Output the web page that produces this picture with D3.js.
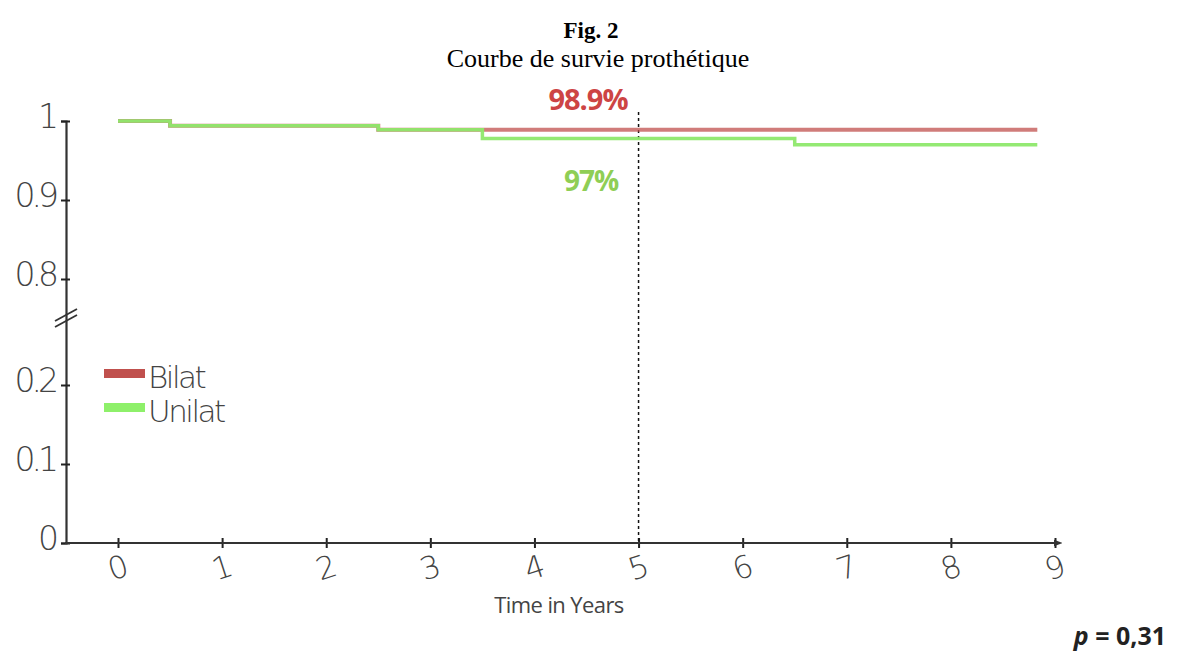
<!DOCTYPE html>
<html>
<head>
<meta charset="utf-8">
<script src="https://cdn.jsdelivr.net/npm/d3@7"></script>
<style>
  body { margin: 0; background: #fff; }
  .num { font-family: "DejaVu Sans", sans-serif; font-weight: 200; fill: #444; }
</style>
</head>
<body>
<div id="chart"></div>
<script>
var svgWidth = 1181;
var svgHeight = 653;

// Kaplan-Meier steps
var bilatTimes = [0, 0.5, 2.5, 8.83];
var bilatSurv = [1, 0.994, 0.989, 0.989];
var unilatTimes = [0, 0.5, 2.5, 3.5, 6.5, 8.83];
var unilatSurv = [1, 0.994, 0.989, 0.978, 0.970, 0.970];

var xTicks = [0, 1, 2, 3, 4, 5, 6, 7, 8, 9];
var yTicks = [0, 0.1, 0.2, 0.8, 0.9, 1];
var yTickLabels = ["0", "0.1", "0.2", "0.8", "0.9", "1"];
var markTime = 5;
var markLabels = ["98.9%", "97%"];

var svg = d3.select("#chart")
  .append("svg")
  .attr("width", svgWidth)
  .attr("height", svgHeight);

var xAxisLeft = 66;
var xScale = d3.scaleLinear().domain([0, 9]).range([118, 1055]);
// broken axis: 0.2 -> 0.8 is squeezed
var yScale = d3.scaleLinear().domain([0, 0.2, 0.8, 1]).range([543, 385, 279, 121]);

// titles
svg.append("text").attr("x", 591).attr("y", 38).attr("text-anchor", "middle")
  .style("font-family", "Liberation Serif, Times New Roman, serif")
  .style("font-weight", "bold").style("font-size", "23px").text("Fig. 2");
svg.append("text").attr("x", 598).attr("y", 67).attr("text-anchor", "middle")
  .style("font-family", "Liberation Serif, Times New Roman, serif")
  .style("font-size", "26px").text("Courbe de survie prothétique");

// y axis
var yAxis = svg.append("g")
  .attr("transform", `translate(${xAxisLeft},0)`)
  .call(d3.axisLeft(yScale).tickValues(yTicks).tickSize(5)
    .tickFormat((d, i) => yTickLabels[i]));
yAxis.select(".domain").attr("stroke", "#333").attr("stroke-width", 2.2);
yAxis.selectAll(".tick line").attr("x1", -5).attr("x2", 4).attr("stroke", "#222").attr("stroke-width", 2);
yAxis.selectAll(".tick text")
  .attr("class", "num")
  .attr("x", -11)
  .style("font-size", "33px")
  .style("letter-spacing", "-4px")
  .attr("dy", "0.2em");

// axis break marks
var brk = svg.append("g");
[0, 6].forEach(function(off) {
  brk.append("line")
    .attr("x1", xAxisLeft - 11).attr("y1", 327 + off - 6)
    .attr("x2", xAxisLeft + 11).attr("y2", 315 + off - 6)
    .attr("stroke", "#333").attr("stroke-width", 1.8);
});

// x axis
var xAxis = svg.append("g")
  .attr("transform", `translate(0,${yScale(0)})`)
  .call(d3.axisBottom(xScale).tickValues(xTicks).tickSize(5));
xAxis.select(".domain").remove();
xAxis.selectAll(".tick line").attr("y1", -5).attr("y2", 5).attr("stroke", "#222").attr("stroke-width", 2);
xAxis.selectAll(".tick text")
  .attr("class", "num")
  .attr("x", -8)
  .attr("y", 34)
  .attr("dy", 0)
  .style("font-size", "31px")
  .attr("transform", "rotate(-18)");
svg.append("defs").append("marker")
  .attr("id", "arrow").attr("viewBox", "0 0 10 10")
  .attr("refX", 5).attr("refY", 5)
  .attr("markerWidth", 4).attr("markerHeight", 4)
  .attr("orient", "auto")
  .append("path").attr("d", "M0,1L10,5L0,9Z").attr("fill", "#333");
svg.append("line")
  .attr("x1", xAxisLeft - 1).attr("x2", 1058)
  .attr("y1", yScale(0)).attr("y2", yScale(0))
  .attr("stroke", "#333").attr("stroke-width", 2.2)
  .attr("marker-end", "url(#arrow)");

svg.append("text")
  .attr("x", 559).attr("y", 613).attr("text-anchor", "middle")
  .style("font-family", "Open Sans, sans-serif").style("font-size", "22px")
  .style("letter-spacing", "-0.6px")
  .style("fill", "#444").text("Time in Years");

// dashed line at 5 years
svg.append("line")
  .attr("x1", xScale(markTime)).attr("x2", xScale(markTime))
  .attr("y1", 112).attr("y2", yScale(0))
  .attr("stroke", "#111").attr("stroke-width", 1.5)
  .attr("stroke-dasharray", "3,3");

// survival curves
var line = d3.line()
  .x(d => xScale(d[0]))
  .y(d => yScale(d[1]))
  .curve(d3.curveStepAfter);

svg.append("path")
  .datum(d3.zip(bilatTimes, bilatSurv))
  .attr("d", line)
  .attr("fill", "none")
  .attr("stroke", "#c0504d").attr("stroke-opacity", 0.75)
  .attr("stroke-width", 4);

svg.append("path")
  .datum(d3.zip(unilatTimes, unilatSurv))
  .attr("d", line)
  .attr("fill", "none")
  .attr("stroke", "#8ee86c").attr("stroke-opacity", 0.95)
  .attr("stroke-width", 3.5);

// value labels
svg.append("text").attr("x", 588).attr("y", 110).attr("text-anchor", "middle")
  .style("font-family", "Open Sans, sans-serif").style("font-weight", "bold")
  .style("font-size", "29px").style("fill", "#cd4444").style("letter-spacing", "-1px")
  .text(markLabels[0]);
svg.append("text").attr("x", 591).attr("y", 191).attr("text-anchor", "middle")
  .style("font-family", "Open Sans, sans-serif").style("font-weight", "bold")
  .style("font-size", "28px").style("fill", "#8fce55").style("letter-spacing", "-1px")
  .text(markLabels[1]);

// legend
var legend = svg.append("g").attr("transform", "translate(104,368)");
var legendItems = [["Bilat", "#c0504d"], ["Unilat", "#8ef06a"]];
legendItems.forEach(function(item, i) {
  legend.append("rect")
    .attr("x", 0).attr("y", i * 34 + 1)
    .attr("width", 41).attr("height", 9)
    .attr("fill", item[1]);
  legend.append("text")
    .attr("class", "num")
    .attr("x", 44).attr("y", i * 34 + 20)
    .style("font-size", "31px").style("letter-spacing", "-2.5px")
    .text(item[0]);
});

// p value
var p = svg.append("text").attr("x", 1166).attr("y", 645).attr("text-anchor", "end")
  .style("font-family", "Open Sans, sans-serif").style("font-weight", "bold")
  .style("font-size", "25px").style("fill", "#222");
p.append("tspan").style("font-style", "italic").text("p");
p.append("tspan").text(" = 0,31");
</script>
</body>
</html>
